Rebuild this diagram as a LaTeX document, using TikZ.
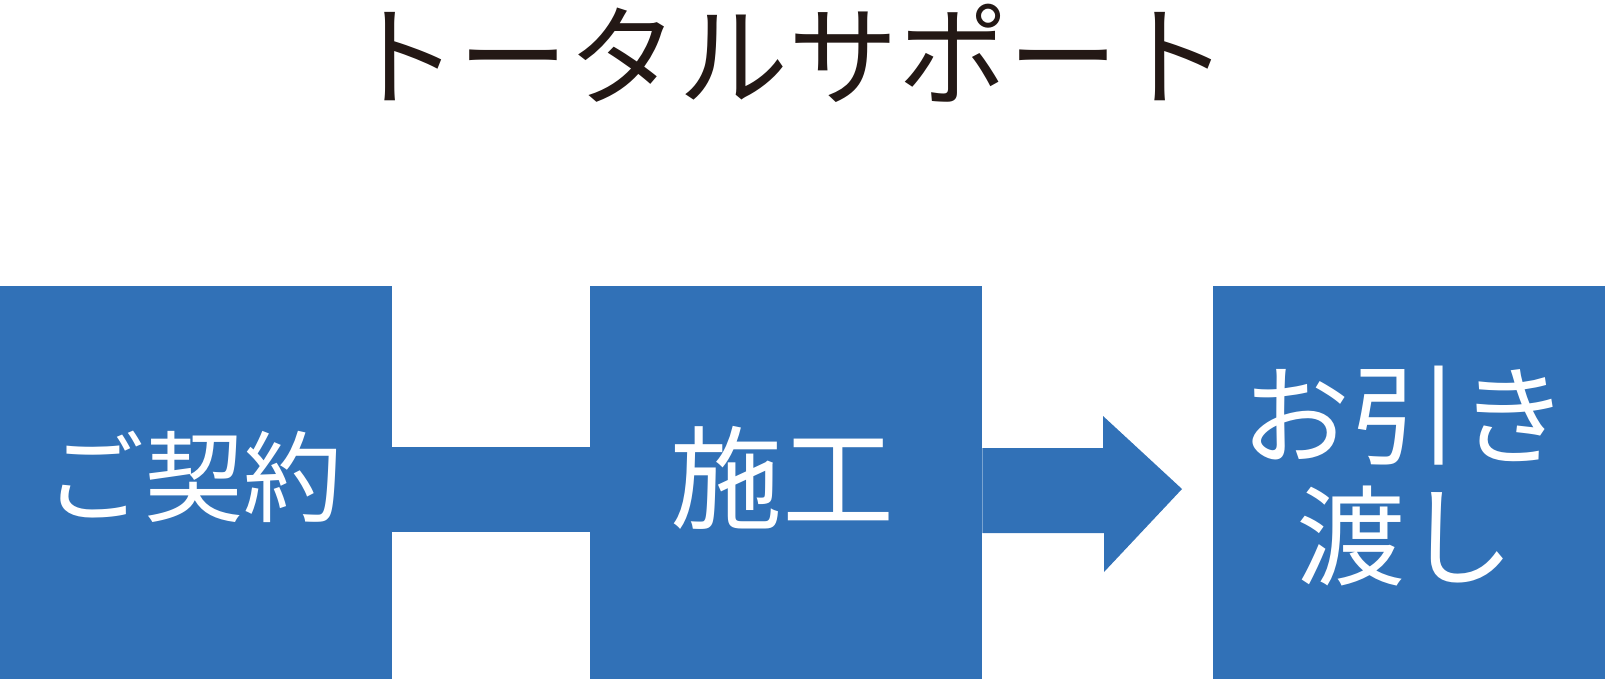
\documentclass[tikz,border=0pt]{standalone}
\usepackage{fontspec}
\newfontfamily\jp{Noto Sans CJK JP}
\definecolor{boxblue}{HTML}{3171B7}
\definecolor{titleblack}{HTML}{231815}
\tikzset{
  box/.style={fill=boxblue, draw=none, inner sep=0pt, anchor=north west},
  boxtext/.style={text=white, font=\jp, align=center, inner sep=0pt},
  titletext/.style={text=titleblack, font=\jp\fontsize{110pt}{120pt}\selectfont, inner sep=0pt},
  conn/.style={fill=boxblue, draw=none}
}
\begin{document}
\begin{tikzpicture}[x=1pt,y=-1pt]
\useasboundingbox (0,0) rectangle (1605,679);
\node[titletext] (title) at (788,53) {トータルサポート};
\node[box, minimum width=392pt, minimum height=393pt] (b1) at (0,286) {};
\node[box, minimum width=392pt, minimum height=393pt] (b2) at (590,286) {};
\node[box, minimum width=392pt, minimum height=393pt] (b3) at (1213,286) {};
\node[boxtext, font=\jp\fontsize{99pt}{110pt}\selectfont] (t1) at (194,477) {ご契約};
\node[boxtext, font=\jp\fontsize{112pt}{120pt}\selectfont] (t2) at (782,478) {施工};
\node[boxtext, font=\jp\fontsize{109pt}{121pt}\selectfont] (t3) at (1405,476) {お引き\\渡し};
% band between box 1 and box 2
\fill[conn] (b1.east |- 0,447) rectangle (b2.west |- 0,532);
% arrow from box 2 to box 3
\coordinate (tip) at (1182,489);
\fill[conn] (b2.east |- 0,448) -- (1103,448) -- (1103,416) -- (tip)
  -- (1104,572) -- (1104,533) -- (b2.east |- 0,533) -- cycle;
\end{tikzpicture}
\end{document}
